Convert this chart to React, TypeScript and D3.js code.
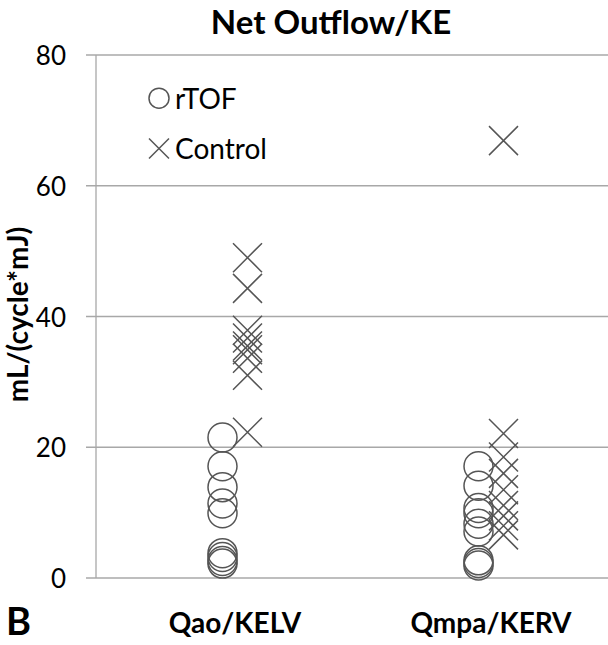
import React from "react";
import * as d3 from "d3";

const categories = ["Qao/KELV", "Qmpa/KERV"];
const rTOF_Qao = [21.5, 17.1, 13.9, 11.4, 9.9, 3.8, 3.2, 2.6, 2.2];
const rTOF_Qmpa = [17.1, 14.1, 10.7, 9.9, 8.3, 7.1, 2.7, 2.3, 1.9];
const control_Qao = [49, 44.3, 37.9, 36.7, 35.5, 34.9, 33.6, 31.0, 22.3];
const control_Qmpa = [66.9, 22.1, 18.5, 16.0, 13.5, 11.1, 9.5, 8.0, 6.6];
const yTicks = [0, 20, 40, 60, 80];
const legendItems = [
  { label: "rTOF", value: 73.4, kind: "circle" },
  { label: "Control", value: 65.7, kind: "cross" },
];

const W = 608;
const H = 645;
const FONT = "Lato, 'Open Sans', sans-serif";
const MARK = "#555555";
const GRID = "#a8a8a8";

export default function App() {
  const y = d3.scaleLinear().domain([0, 80]).range([578, 55]);
  const x = d3.scaleLinear().domain([0, 1]).range([235, 491]);
  const off = 12.5;
  const r = 14.5;
  const h = 14.5;

  const rtof = [rTOF_Qao, rTOF_Qmpa];
  const ctrl = [control_Qao, control_Qmpa];

  const cross = (cx: number, cy: number, s: number) =>
    `M${cx - s},${cy - s}L${cx + s},${cy + s}M${cx - s},${cy + s}L${cx + s},${cy - s}`;

  return (
    <svg
      width={W}
      height={H}
      style={{ position: "absolute", left: 0, top: 0, background: "#fff" }}
      fontFamily={FONT}
    >
      <rect width={W} height={H} fill="#fff" />
      {/* title */}
      <text x={331} y={34} textAnchor="middle" fontSize={33} fontWeight="bold" fill="#000">
        Net Outflow/KE
      </text>
      {/* gridlines */}
      {yTicks.map((t) => (
        <g key={t}>
          <line x1={86} x2={W} y1={y(t)} y2={y(t)} stroke={GRID} strokeWidth={1.3} />
          <text x={66} y={y(t)} textAnchor="end" dominantBaseline="central" fontSize={26} fill="#000">
            {t}
          </text>
        </g>
      ))}
      <line x1={96} x2={96} y1={y(80)} y2={y(0)} stroke={GRID} strokeWidth={1.3} />
      {/* y label */}
      <text
        transform={`translate(28,${(y(0) + y(80)) / 2 - 2}) rotate(-90)`}
        textAnchor="middle"
        fontSize={28}
        fontWeight="bold"
        fill="#000"
      >
        mL/(cycle*mJ)
      </text>
      {/* x labels */}
      {categories.map((c, i) => (
        <text key={c} x={x(i)} y={633} textAnchor="middle" fontSize={28} fontWeight="bold" fill="#000">
          {c}
        </text>
      ))}
      <text x={6} y={635} fontSize={38} fontWeight="bold" fill="#000">
        B
      </text>
      {/* markers */}
      {rtof.map((arr, i) =>
        arr.map((v, j) => (
          <circle key={`c${i}-${j}`} cx={x(i) - off} cy={y(v)} r={r} fill="none" stroke={MARK} strokeWidth={1.5} />
        ))
      )}
      {ctrl.map((arr, i) =>
        arr.map((v, j) => (
          <path key={`x${i}-${j}`} d={cross(x(i) + off, y(v), h)} fill="none" stroke={MARK} strokeWidth={1.5} />
        ))
      )}
      {/* legend */}
      {legendItems.map((l) => (
        <g key={l.label}>
          {l.kind === "circle" ? (
            <circle cx={159} cy={y(l.value)} r={10} fill="none" stroke={MARK} strokeWidth={1.5} />
          ) : (
            <path d={cross(159, y(l.value), 10)} fill="none" stroke={MARK} strokeWidth={1.5} />
          )}
          <text x={175} y={y(l.value)} dominantBaseline="central" fontSize={28} fill="#000">
            {l.label}
          </text>
        </g>
      ))}
    </svg>
  );
}
